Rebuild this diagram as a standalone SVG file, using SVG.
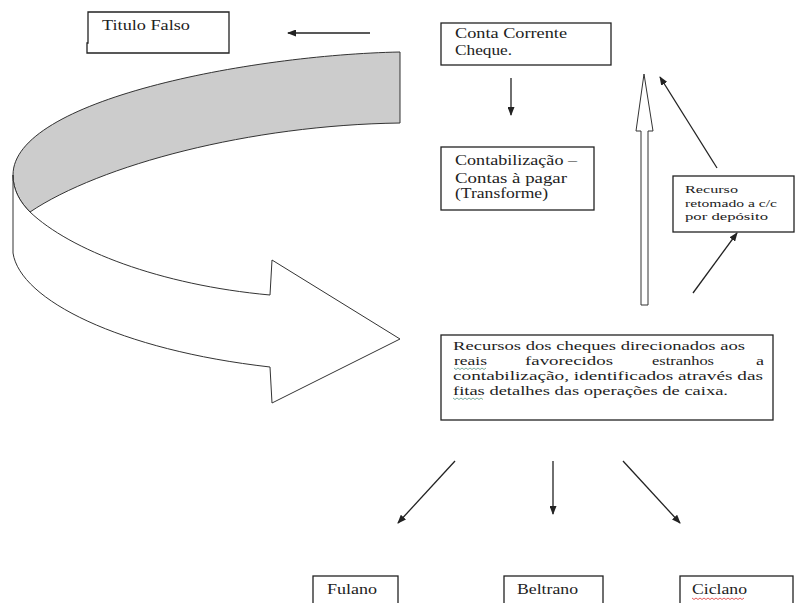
<svg xmlns="http://www.w3.org/2000/svg" width="795" height="603" viewBox="0 0 795 603">
<style>
.box{fill:#fff;stroke:#222;stroke-width:1.3}
.t{font-family:"Liberation Serif","Times New Roman",serif;fill:#222;font-size:14px}
.s{font-size:11px}
.m{font-size:13px}
.c{stroke:#222;stroke-width:1.3;fill:none}
.rib{stroke:#333;stroke-width:1}
</style>
<defs>
<marker id="ah" markerUnits="userSpaceOnUse" markerWidth="9" markerHeight="7" refX="8" refY="3.5" orient="auto"><path d="M0,0 L9,3.5 L0,7 Z" fill="#222"/></marker>
</defs>
<rect width="795" height="603" fill="#fff"/>
<g id="curved-arrow">
<path class="rib" fill="#cccccc" d="M400,52 C250,55 13,100 13,175 C13,190 20,202 30,212 C100,165 250,125 400,123 Z"/>
<path class="rib" fill="#fff" d="M13,175 C13,190 20,202 30,212 C70,250 160,285 270,295 L272,260 L400,339 L272,403 L270,367 C120,350 20,300 13,253 Z"/>
</g>
<g id="titulo-falso">
<path class="box" d="M88,12 H229 V53 H87 V43 H88 Z"/>
<text class="t" x="102" y="30" textLength="88" lengthAdjust="spacingAndGlyphs">Titulo Falso</text>
</g>
<g id="conta-corrente">
<rect class="box" x="441" y="23" width="170" height="42"/>
<text class="t" x="455" y="38" textLength="112" lengthAdjust="spacingAndGlyphs">Conta Corrente</text>
<text class="t" x="455" y="55" textLength="57" lengthAdjust="spacingAndGlyphs">Cheque.</text>
</g>
<g id="contabilizacao">
<rect class="box" x="441" y="147" width="153" height="63"/>
<text class="t" x="455" y="165" textLength="122" lengthAdjust="spacingAndGlyphs">Contabilização –</text>
<text class="t" x="455" y="183" textLength="112" lengthAdjust="spacingAndGlyphs">Contas à pagar</text>
<text class="t" x="455" y="198" textLength="93" lengthAdjust="spacingAndGlyphs">(Transforme)</text>
</g>
<g id="recurso-retornado">
<rect class="box" x="673" y="176" width="121" height="56"/>
<text class="t s" x="685" y="193" textLength="53" lengthAdjust="spacingAndGlyphs">Recurso</text>
<text class="t s" x="685" y="207" textLength="92" lengthAdjust="spacingAndGlyphs">retomado a c/c</text>
<text class="t s" x="685" y="220" textLength="83" lengthAdjust="spacingAndGlyphs">por depósito</text>
</g>
<g id="recursos-cheques">
<rect class="box" x="441" y="335" width="332" height="85"/>
<text class="t m" x="453" y="350" textLength="292" lengthAdjust="spacingAndGlyphs">Recursos dos cheques direcionados aos</text>
<text class="t m" x="454" y="365" textLength="33" lengthAdjust="spacingAndGlyphs">reais</text>
<text class="t m" x="525" y="365" textLength="88" lengthAdjust="spacingAndGlyphs">favorecidos</text>
<text class="t m" x="652" y="365" textLength="62" lengthAdjust="spacingAndGlyphs">estranhos</text>
<text class="t m" x="756" y="365" textLength="8" lengthAdjust="spacingAndGlyphs">a</text>
<text class="t m" x="453" y="380" textLength="310" lengthAdjust="spacingAndGlyphs">contabilização, identificados através das</text>
<text class="t m" x="453" y="395" textLength="275" lengthAdjust="spacingAndGlyphs">fitas detalhes das operações de caixa.</text>
<path d="M454,368 l2,1.5 l2,-1.5 l2,1.5 l2,-1.5 l2,1.5 l2,-1.5 l2,1.5 l2,-1.5 l2,1.5 l2,-1.5 l2,1.5 l2,-1.5 l2,1.5 l2,-1.5 l2,1.5 l2,-1.5" stroke="#5b9a8a" stroke-width="0.8" fill="none"/>
<path d="M453,398 l2,1.5 l2,-1.5 l2,1.5 l2,-1.5 l2,1.5 l2,-1.5 l2,1.5 l2,-1.5 l2,1.5 l2,-1.5 l2,1.5 l2,-1.5 l2,1.5 l2,-1.5 l2,1.5" stroke="#5b9a8a" stroke-width="0.8" fill="none"/>
</g>
<g id="fulano">
<rect class="box" x="313" y="576" width="85" height="40"/>
<text class="t" x="327" y="594" textLength="50" lengthAdjust="spacingAndGlyphs">Fulano</text>
</g>
<g id="beltrano">
<rect class="box" x="504" y="576" width="99" height="40"/>
<text class="t" x="517" y="594" textLength="61" lengthAdjust="spacingAndGlyphs">Beltrano</text>
</g>
<g id="ciclano">
<rect class="box" x="680" y="576" width="113" height="40"/>
<text class="t" x="692" y="594" textLength="55" lengthAdjust="spacingAndGlyphs">Ciclano</text>
<path d="M692,598 l2,1.5 l2,-1.5 l2,1.5 l2,-1.5 l2,1.5 l2,-1.5 l2,1.5 l2,-1.5 l2,1.5 l2,-1.5 l2,1.5 l2,-1.5 l2,1.5 l2,-1.5 l2,1.5 l2,-1.5 l2,1.5 l2,-1.5 l2,1.5 l2,-1.5 l2,1.5 l2,-1.5 l2,1.5 l2,-1.5 l2,1.5 l2,-1.5" stroke="#d33" stroke-width="0.8" fill="none"/>
</g>
<g id="connectors">
<line class="c" x1="370" y1="33" x2="288" y2="33" marker-end="url(#ah)"/>
<line class="c" x1="511" y1="78" x2="511" y2="115" marker-end="url(#ah)"/>
<polygon points="641,305 641,131 636,131 644,74 653,131 648,131 648,305" fill="#fff" stroke="#333" stroke-width="1"/>
<line class="c" x1="717" y1="168" x2="660" y2="77" marker-end="url(#ah)"/>
<line class="c" x1="693" y1="293" x2="737" y2="233" marker-end="url(#ah)"/>
<line class="c" x1="455" y1="461" x2="398" y2="523" marker-end="url(#ah)"/>
<line class="c" x1="553" y1="461" x2="553" y2="514" marker-end="url(#ah)"/>
<line class="c" x1="623" y1="461" x2="680" y2="523" marker-end="url(#ah)"/>
</g>
</svg>
